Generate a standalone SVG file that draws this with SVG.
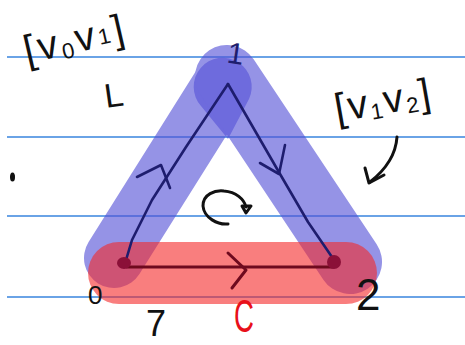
<svg xmlns="http://www.w3.org/2000/svg" width="465" height="345" viewBox="0 0 465 345">
<defs>
<style>
.rule{stroke:#6aa3e6;stroke-width:2;fill:none}
.band{fill:none;stroke:#5552d7;stroke-linecap:round}
.redband{fill:none;stroke:#f52828;stroke-opacity:0.6;stroke-linecap:round}
.edge{fill:none;stroke:#1e1d6e;stroke-width:2.6;stroke-linecap:round;stroke-linejoin:round}
.edgeR{fill:none;stroke:#6e0a1e;stroke-width:3;stroke-linecap:round;stroke-linejoin:round}
.pen{fill:none;stroke:#111;stroke-width:3;stroke-linecap:round;stroke-linejoin:round}
.hand{font-family:"Liberation Sans",Arial,sans-serif;fill:#111}
</style>
</defs>
<rect width="465" height="345" fill="#ffffff"/>
<g id="ruled">
<line class="rule" x1="7" y1="57" x2="465" y2="57"/>
<line class="rule" x1="7" y1="137" x2="465" y2="137"/>
<line class="rule" x1="7" y1="216" x2="465" y2="216"/>
<line class="rule" x1="7" y1="297" x2="465" y2="297"/>
</g>
<g id="bands">
<g opacity="0.62">
<line class="band" x1="222" y1="86" x2="114" y2="258" stroke-width="60"/>
<line class="band" x1="227" y1="77" x2="350" y2="262" stroke-width="64"/>
</g>
<path d="M201,106 L228,139 L249,99 A29,29 0 1 0 201,106 Z" fill="#5552d7" fill-opacity="0.62"/>
<line class="redband" x1="119" y1="273" x2="346" y2="273" stroke-width="62"/>
</g>
<g id="connectors">
<g id="edge-v0-v1">
<polyline class="edge" points="126,260 132,240 152,200 186,147 228,84"/>
<path class="edge" d="M137,177 L161,165 L170,188"/>
</g>
<g id="edge-v1-v2">
<polyline class="edge" points="228,84 280,174 308,222 334,260"/>
<path class="edge" d="M260,163 L279,174 L285,145"/>
</g>
<g id="edge-v0-v2">
<line class="edgeR" x1="127" y1="267" x2="333" y2="267"/>
<path class="edgeR" d="M228,253 L246,270 L232,288"/>
</g>
<g id="label-arrow">
<path class="pen" d="M397,137 C396,152 389,167 370,182"/>
<path class="pen" d="M365,168 L369,183 L384,175"/>
</g>
<g id="rotation">
<path class="pen" d="M228,224 C218,225 204,218 203,206 C203,194 215,190 224,191 C236,192 244,199 246,207"/>
<path class="pen" d="M242,206 L251,206 L246,213 Z"/>
</g>
</g>
<g id="v0">
<ellipse cx="124" cy="263" rx="7" ry="6" fill="#8b1038"/>
<text class="hand" x="88" y="304" font-size="26">0</text>
</g>
<g id="v1">
<text class="hand" x="226" y="63" font-size="30" transform="rotate(8 230 63)" style="fill:#1e1d6e">1</text>
</g>
<g id="v2">
<ellipse cx="334" cy="262" rx="7" ry="7" fill="#8b1038"/>
<text class="hand" x="356" y="310" font-size="44">2</text>
</g>
<g id="labels">
<text class="hand" x="27" y="64" font-size="40" letter-spacing="3" transform="rotate(-13 27 64)">[v<tspan font-size="22" dy="4">0</tspan><tspan dy="-4">v</tspan><tspan font-size="22" dy="-2">1</tspan><tspan dy="2">]</tspan></text>
<text class="hand" x="337" y="122" font-size="40" letter-spacing="2" transform="rotate(-10 337 122)">[v<tspan font-size="22" dy="4">1</tspan><tspan dy="-4">v</tspan><tspan font-size="22" dy="4">2</tspan><tspan dy="-4">]</tspan></text>
<text class="hand" x="106" y="108" font-size="34" transform="rotate(-8 106 108)">L</text>
<text class="hand" x="146" y="336" font-size="36">7</text>
<text class="hand" x="390" y="332" font-size="46" transform="scale(0.6 1)" style="fill:#e8101a">C</text>
<ellipse cx="12.5" cy="177" rx="2.5" ry="4.5" fill="#111"/>
</g>
</svg>
